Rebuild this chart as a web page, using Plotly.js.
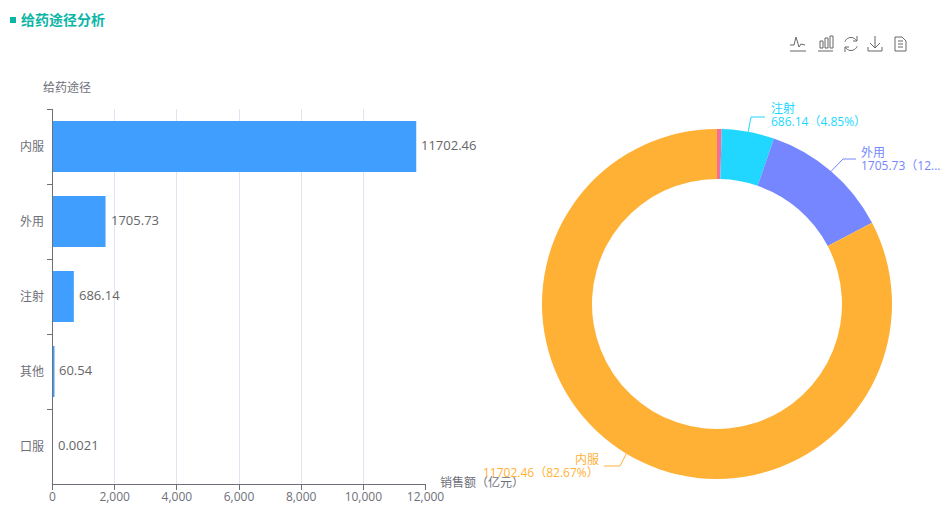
<!DOCTYPE html>
<html>
<head>
<meta charset="utf-8">
<script src="https://cdn.plot.ly/plotly-3.0.1.min.js"></script>
<style>html,body{margin:0;padding:0;background:#fff;overflow:hidden}#c{width:948px;height:506px}</style>
</head>
<body>
<div id="c"></div>
<script>
const categories = ['内服', '外用', '注射', '其他', '口服'];
const sales = [11702.46, 1705.73, 686.14, 60.54, 0.0021];
const salesLabels = ['11702.46', '1705.73', '686.14', '60.54', '0.0021'];
const pieOrder = ['口服', '其他', '注射', '外用', '内服'];
const pieValues = [0.0021, 60.54, 686.14, 1705.73, 11702.46];
const pieColors = ['#E8C85A', '#F56C9B', '#22D7FF', '#7586FF', '#FFB136'];
const xTicks = [0, 2000, 4000, 6000, 8000, 10000, 12000];
const W = 948, H = 506;
const FONT = '"Open Sans","Noto Sans CJK SC",sans-serif';
const GREY = '#6E7079';
const cx = 717, cy = 304, R = 175, r = 125;
const px = x => x / W, py = y => 1 - y / H;

function poly(pts, color, width, close) {
  const d = pts.map((p, i) => (i ? 'L' : 'M') + px(p[0]) + ',' + py(p[1])).join(' ') + (close ? ' Z' : '');
  return {type: 'path', xref: 'paper', yref: 'paper', path: d,
    line: {color: color, width: width === undefined ? 1 : width},
    fillcolor: close === 'fill' ? color : 'rgba(0,0,0,0)'};
}
function txt(x, y, text, color, size, anchor, bold) {
  return {xref: 'paper', yref: 'paper', x: px(x), y: py(y), text: bold ? '<b>' + text + '</b>' : text,
    showarrow: false, xanchor: anchor || 'left', yanchor: 'middle',
    font: {family: FONT, size: size || 12, color: color}, borderpad: 0, borderwidth: 0};
}

const total = pieValues.reduce((a, b) => a + b, 0);
function midAngle(name) {
  let acc = 0;
  for (let i = 0; i < pieOrder.length; i++) {
    if (pieOrder[i] === name) return (acc + pieValues[i] / 2) / total * 2 * Math.PI;
    acc += pieValues[i];
  }
}
function pct(name) {
  const i = pieOrder.indexOf(name);
  return (pieValues[i] / total * 100).toFixed(2) + '%';
}
function valueOf(name) { return salesLabels[categories.indexOf(name)]; }
function colorOf(name) { return pieColors[pieOrder.indexOf(name)]; }

const shapes = [], annotations = [];
// heading
shapes.push(poly([[10, 17], [16, 17], [16, 23], [10, 23]], '#0BB5A5', 0, 'fill'));
annotations.push(txt(21, 20, '给药途径分析', '#0BB5A5', 14, 'left', true));
annotations.push(txt(67, 87, '给药途径', GREY, 12, 'center'));
annotations.push(txt(440, 482, '销售额（亿元）', GREY, 12, 'left'));

// bar value labels
categories.forEach((c, i) => annotations.push({
  xref: 'x', yref: 'y', x: sales[i], y: c, text: salesLabels[i], showarrow: false,
  xanchor: 'left', yanchor: 'middle', xshift: 5, yshift: 1.5,
  font: {family: FONT, size: 13, color: '#666'}, borderpad: 0, borderwidth: 0
}));

// pie leader lines and labels
function leader(name, elbow, end) {
  const a = midAngle(name);
  shapes.push(poly([[cx + R * Math.sin(a), cy - R * Math.cos(a)], elbow, end], colorOf(name), 1));
}
leader('注射', [751, 117], [765, 117]);
annotations.push(txt(771, 109, '注射', colorOf('注射')));
annotations.push(txt(771, 122, valueOf('注射') + '（' + pct('注射') + '）', colorOf('注射')));
leader('外用', [843, 159], [856, 159]);
annotations.push(txt(861, 152, '外用', colorOf('外用')));
annotations.push(txt(861, 165, (valueOf('外用') + '（' + pct('外用')).slice(0, 10) + '...', colorOf('外用')));
leader('内服', [620, 466], [604, 466]);
annotations.push(txt(599, 459, '内服', colorOf('内服'), 12, 'right'));
annotations.push(txt(599, 472, valueOf('内服') + '（' + pct('内服') + '）', colorOf('内服'), 12, 'right'));

// toolbar icons
const IC = '#666';
shapes.push(poly([[790,45],[794,45],[796,37],[799,47],[801,44],[805,45]], IC, 1));
shapes.push(poly([[790,51],[806,51]], IC, 1));
shapes.push(poly([[820,41],[823,41],[823,48],[820,48]], IC, 1, true));
shapes.push(poly([[825,38],[828,38],[828,48],[825,48]], IC, 1, true));
shapes.push(poly([[830,36],[833,36],[833,48],[830,48]], IC, 1, true));
shapes.push(poly([[818,51],[833,51]], IC, 1));
const arc1 = [], arc2 = [];
for (let d = 30; d <= 165; d += 10) arc1.push([851 + 6.5 * Math.cos(d * Math.PI / 180), 44 - 6.5 * Math.sin(d * Math.PI / 180)]);
for (let d = 210; d <= 345; d += 10) arc2.push([851 + 6.5 * Math.cos(d * Math.PI / 180), 44 - 6.5 * Math.sin(d * Math.PI / 180)]);
shapes.push(poly(arc1, IC, 1));
shapes.push(poly(arc2, IC, 1));
shapes.push(poly([[857,36],[857,41],[853,41]], IC, 1));
shapes.push(poly([[845,52],[845,47],[849,47]], IC, 1));
shapes.push(poly([[875,36],[875,48]], IC, 1));
shapes.push(poly([[870,43],[875,48],[880,43]], IC, 1));
shapes.push(poly([[868,47],[868,51],[882,51],[882,47]], IC, 1));
shapes.push(poly([[895,37],[902,37],[906,41],[906,51],[895,51]], IC, 1, true));
[41, 44, 47].forEach(y => shapes.push(poly([[898, y], [903, y]], IC, 1)));

const traces = [
  {type: 'bar', orientation: 'h', x: sales, y: categories,
   marker: {color: '#409EFF', line: {width: 0}}, cliponaxis: false, hoverinfo: 'x+y'},
  {type: 'pie', labels: pieOrder, values: pieValues, sort: false, direction: 'clockwise', rotation: 0,
   hole: r / R, textinfo: 'none', marker: {colors: pieColors, line: {width: 0}},
   domain: {x: [px(cx - R), px(cx + R)], y: [py(cy + R), py(cy - R)]}, showlegend: false}
];

const layout = {
  width: W, height: H, margin: {l: 0, r: 0, t: 0, b: 0, pad: 0},
  paper_bgcolor: '#fff', plot_bgcolor: '#fff', showlegend: false, bargap: 0.32,
  font: {family: FONT, size: 12, color: GREY},
  xaxis: {domain: [px(52.5), px(425.5)], range: [0, 12000], tickvals: xTicks, tickformat: ',d',
    showgrid: true, gridcolor: '#E0E6F1', gridwidth: 1, zeroline: false,
    showline: true, linecolor: GREY, linewidth: 1, ticks: 'outside', ticklen: 5, tickcolor: GREY,
    ticklabelstandoff: -3,
    tickfont: {family: FONT, size: 12, color: GREY}, fixedrange: true, anchor: 'y'},
  yaxis: {domain: [py(484), py(109)], type: 'category', categoryorder: 'array', categoryarray: categories,
    autorange: false, range: [4.5, -0.5], tickson: 'boundaries', ticks: 'outside', ticklen: 5, tickcolor: GREY,
    ticklabelstandoff: 5,
    showgrid: false, zeroline: false, showline: true, linecolor: GREY, linewidth: 1,
    tickfont: {family: FONT, size: 12, color: GREY}, fixedrange: true, anchor: 'x'},
  shapes: shapes, annotations: annotations
};
Plotly.newPlot('c', traces, layout, {displayModeBar: false});
</script>
</body>
</html>
